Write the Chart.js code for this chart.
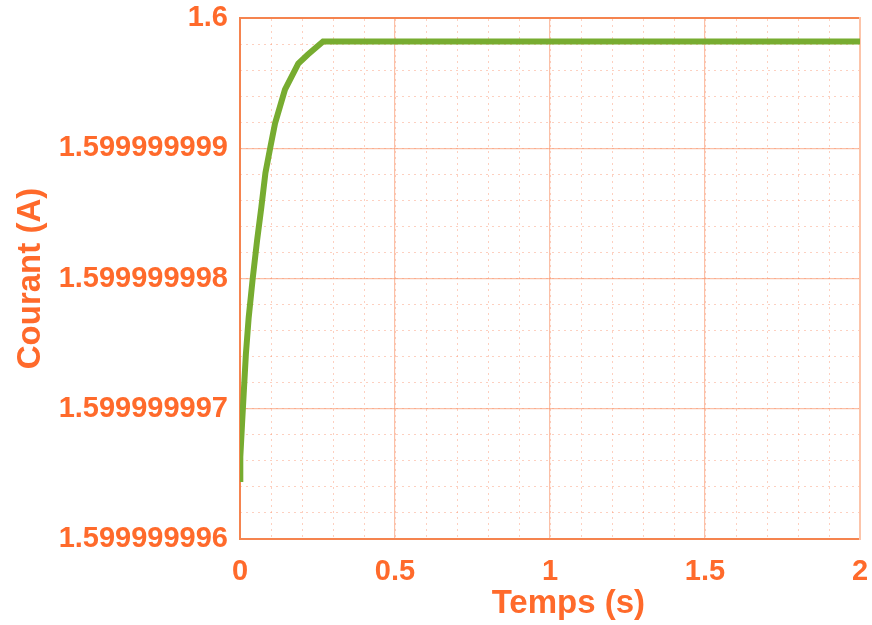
<!DOCTYPE html>
<html>
<head>
<meta charset="utf-8">
<script src="https://cdn.jsdelivr.net/npm/chart.js@4.4.1/dist/chart.umd.min.js"></script>
<style>
  html, body { margin: 0; padding: 0; background: #ffffff; }
  #wrap { width: 872px; height: 625px; }
</style>
</head>
<body>
<div id="wrap"><canvas id="courant"></canvas></div>
<script>
/* --------------- Data : current response over time --------------------- */
const temps = [0, 0.001, 0.0065, 0.012, 0.019, 0.028, 0.041, 0.055, 0.069, 0.082, 0.098, 0.113, 0.145, 0.188, 0.219, 0.268, 2];
const courant = [
  1.59999999646, 1.59999999663, 1.59999999688, 1.59999999712, 1.59999999742,
  1.59999999770, 1.59999999800, 1.59999999829, 1.59999999855, 1.59999999881,
  1.59999999901, 1.59999999919, 1.59999999945, 1.59999999965, 1.59999999972,
  1.59999999982, 1.59999999982
];
/* --------------- Axis ticks --------------------- */
const xTicks = [0, 0.5, 1, 1.5, 2];
const yTicks = [1.599999996, 1.599999997, 1.599999998, 1.599999999, 1.6];

const orange = "#ff6a2b";
const gridMajor = "rgba(248, 140, 95, 0.55)";
const gridMinor = "rgba(250, 150, 115, 0.45)";
const tickFont = { family: "'Liberation Sans', Arial, sans-serif", size: 29, weight: "bold", lineHeight: 1 };
const titleFont = { family: "'Liberation Sans', Arial, sans-serif", size: 33, weight: "bold", lineHeight: 1 };

// split each major interval in five for the dotted grid
const minorTicks = (major) => {
  const out = [];
  for (let i = 0; i < major.length - 1; i++) {
    const step = (major[i + 1] - major[i]) / 5;
    for (let k = 0; k < 5; k++) out.push(major[i] + k * step);
  }
  out.push(major[major.length - 1]);
  return out;
};

// end labels may overhang the plot, the outer padding takes care of them
const noOverhang = (scale) => {
  scale.paddingTop = 0;
  scale.paddingBottom = 0;
  scale.paddingLeft = 0;
  scale.paddingRight = 0;
};

const points = temps.map((t, i) => ({ x: t, y: courant[i] }));

new Chart(document.getElementById("courant"), {
  type: "line",
  data: {
    datasets: [{
      data: points,
      borderColor: "#77ac30",
      borderWidth: 6,
      pointRadius: 0,
      tension: 0,
      fill: false,
      xAxisID: "x",
      yAxisID: "y",
    }],
  },
  options: {
    responsive: true,
    maintainAspectRatio: false,
    animation: false,
    layout: { padding: { left: 14, right: 12, top: 18, bottom: 5 } },
    plugins: {
      legend: { display: false },
      tooltip: { enabled: false },
    },
    scales: {
      x: {
        type: "linear",
        position: "bottom",
        min: 0,
        max: 2,
        afterBuildTicks: (scale) => { scale.ticks = xTicks.map((v) => ({ value: v })); },
        afterFit: noOverhang,
        ticks: {
          color: orange,
          font: tickFont,
          padding: 18,
          maxRotation: 0,
          callback: (v) => String(v),
        },
        grid: { color: gridMajor, lineWidth: 1.2, drawTicks: false, z: 0 },
        border: { color: "#f5844f", width: 2 },
        title: { display: true, text: "    Temps (s)", color: orange, font: titleFont, padding: { top: -17, bottom: 0 } },
      },
      xMinor: {
        type: "linear",
        position: "top",
        min: 0,
        max: 2,
        afterBuildTicks: (scale) => { scale.ticks = minorTicks(xTicks).map((v) => ({ value: v })); },
        ticks: { display: false },
        grid: { color: gridMinor, lineWidth: 1, drawTicks: false },
        border: { color: "#f5844f", width: 2, dash: [2, 4] },
      },
      y: {
        type: "linear",
        position: "left",
        min: yTicks[0],
        max: yTicks[yTicks.length - 1],
        afterBuildTicks: (scale) => { scale.ticks = yTicks.map((v) => ({ value: v })); },
        // room for the long labels plus the title
        afterFit: (scale) => { scale.width = 226; noOverhang(scale); },
        ticks: {
          color: orange,
          font: tickFont,
          padding: 12,
          callback: (v) => v.toFixed(9).replace(/\.?0+$/, ""),
        },
        grid: { color: gridMajor, lineWidth: 1.2, drawTicks: false },
        border: { color: "#f5844f", width: 2 },
        title: { display: true, text: "Courant (A)", color: orange, font: titleFont, padding: { top: 0, bottom: 0 } },
      },
      yMinor: {
        type: "linear",
        position: "right",
        min: yTicks[0],
        max: yTicks[yTicks.length - 1],
        afterBuildTicks: (scale) => { scale.ticks = minorTicks(yTicks).map((v) => ({ value: v })); },
        ticks: { display: false },
        grid: { color: gridMinor, lineWidth: 1, drawTicks: false },
        border: { color: "#fcc4aa", width: 2, dash: [2, 4] },
      },
    },
  },
});
</script>
</body>
</html>
